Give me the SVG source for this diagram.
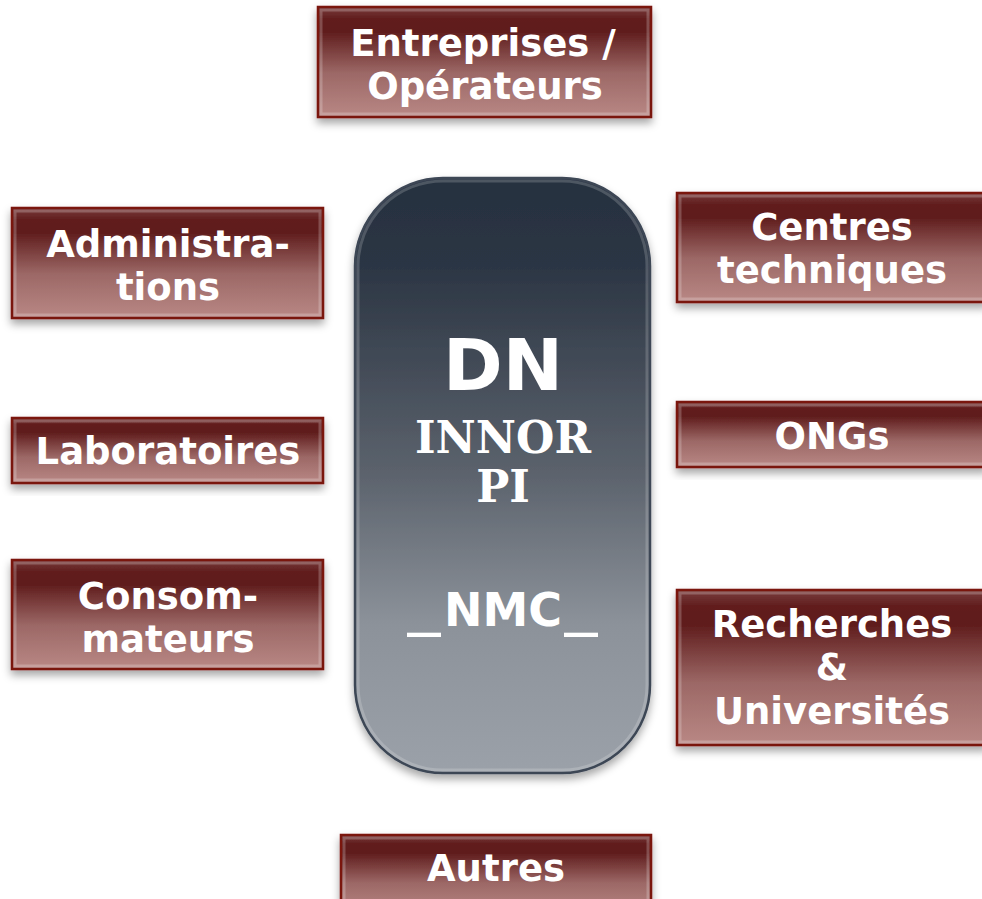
<svg xmlns="http://www.w3.org/2000/svg" width="982" height="899" viewBox="0 0 982 899">
  <style>
    .box { fill: url(#boxFill); stroke: #7a120c; stroke-width: 2.5; filter: url(#shadow); }
    .bevel { fill: none; stroke: #ffffff; stroke-opacity: 0.22; stroke-width: 3; }
    .lbl { font-family: "DejaVu Sans", Verdana, sans-serif; font-weight: bold; font-size: 37px; fill: #ffffff; text-anchor: middle; }
    .core { fill: url(#coreFill); stroke: #3c4655; stroke-width: 2.5; filter: url(#shadow); }
    .coreTxt { font-family: "DejaVu Sans", Verdana, sans-serif; font-weight: bold; fill: #ffffff; text-anchor: middle; }
    .coreSerif { font-family: "DejaVu Serif", Georgia, serif; font-weight: bold; fill: #ffffff; text-anchor: middle; font-size: 44px; }
  </style>
  <defs>
    <linearGradient id="boxFill" x1="0" y1="0" x2="0" y2="1">
      <stop offset="0" stop-color="#7a3e3e"/>
      <stop offset="0.1" stop-color="#621f1f"/>
      <stop offset="0.22" stop-color="#5f1c1c"/>
      <stop offset="0.6" stop-color="#9c6866"/>
      <stop offset="1" stop-color="#b98885"/>
    </linearGradient>
    <linearGradient id="coreFill" x1="0" y1="0" x2="0" y2="1">
      <stop offset="0" stop-color="#263040"/>
      <stop offset="0.15" stop-color="#2c3644"/>
      <stop offset="0.5" stop-color="#5c636d"/>
      <stop offset="0.75" stop-color="#8c929a"/>
      <stop offset="1" stop-color="#9ba1a9"/>
    </linearGradient>
    <filter id="shadow" x="-10%" y="-10%" width="120%" height="130%">
      <feDropShadow dx="0" dy="5" stdDeviation="4" flood-color="#000000" flood-opacity="0.35"/>
    </filter>
  </defs>

  <!-- central hub -->
  <g id="hub">
    <rect class="core" x="355" y="178" width="295" height="595" rx="88" ry="88"/>
    <rect x="358" y="181" width="289" height="589" rx="85" ry="85" fill="none" stroke="#ffffff" stroke-opacity="0.18" stroke-width="3"/>
    <text class="coreTxt" x="503" y="390" font-size="72">DN</text>
    <text class="coreSerif" x="503" y="453">INNOR</text>
    <text class="coreSerif" x="503" y="502">PI</text>
    <text class="coreTxt" x="503" y="626" font-size="46">NMC</text>
    <text class="coreTxt" x="424" y="626" font-size="46" text-anchor="start" textLength="34" lengthAdjust="spacingAndGlyphs">_</text>
    <text class="coreTxt" x="581" y="626" font-size="46" text-anchor="start" textLength="34" lengthAdjust="spacingAndGlyphs">_</text>
  </g>

  <!-- partner nodes -->
  <g id="entreprises">
    <rect class="box" x="318" y="7" width="333" height="110"/>
    <rect class="bevel" x="321" y="10" width="327" height="104"/>
    <text class="lbl" x="483" y="56">Entreprises /</text>
    <text class="lbl" x="485" y="99">Opérateurs</text>
  </g>

  <g id="administrations">
    <rect class="box" x="12" y="208" width="311" height="110"/>
    <rect class="bevel" x="15" y="211" width="305" height="104"/>
    <text class="lbl" x="168" y="257">Administra-</text>
    <text class="lbl" x="168" y="300">tions</text>
  </g>

  <g id="laboratoires">
    <rect class="box" x="12" y="418" width="311" height="65"/>
    <rect class="bevel" x="15" y="421" width="305" height="59"/>
    <text class="lbl" x="168" y="464">Laboratoires</text>
  </g>

  <g id="consommateurs">
    <rect class="box" x="12" y="560" width="311" height="109"/>
    <rect class="bevel" x="15" y="563" width="305" height="103"/>
    <text class="lbl" x="168" y="609">Consom-</text>
    <text class="lbl" x="168" y="652">mateurs</text>
  </g>

  <g id="centres">
    <rect class="box" x="677" y="193" width="310" height="109"/>
    <rect class="bevel" x="680" y="196" width="304" height="103"/>
    <text class="lbl" x="832" y="240">Centres</text>
    <text class="lbl" x="832" y="283">techniques</text>
  </g>

  <g id="ongs">
    <rect class="box" x="677" y="402" width="310" height="65"/>
    <rect class="bevel" x="680" y="405" width="304" height="59"/>
    <text class="lbl" x="832" y="449">ONGs</text>
  </g>

  <g id="recherches">
    <rect class="box" x="677" y="590" width="310" height="155"/>
    <rect class="bevel" x="680" y="593" width="304" height="149"/>
    <text class="lbl" x="832" y="637">Recherches</text>
    <text class="lbl" x="832" y="680">&amp;</text>
    <text class="lbl" x="832" y="724">Universités</text>
  </g>

  <g id="autres">
    <rect class="box" x="341" y="835" width="310" height="80"/>
    <rect class="bevel" x="344" y="838" width="304" height="74"/>
    <text class="lbl" x="496" y="881">Autres</text>
  </g>

  <!-- no connectors are drawn between the hub and its partners -->
  <g id="connectors"/>
</svg>
